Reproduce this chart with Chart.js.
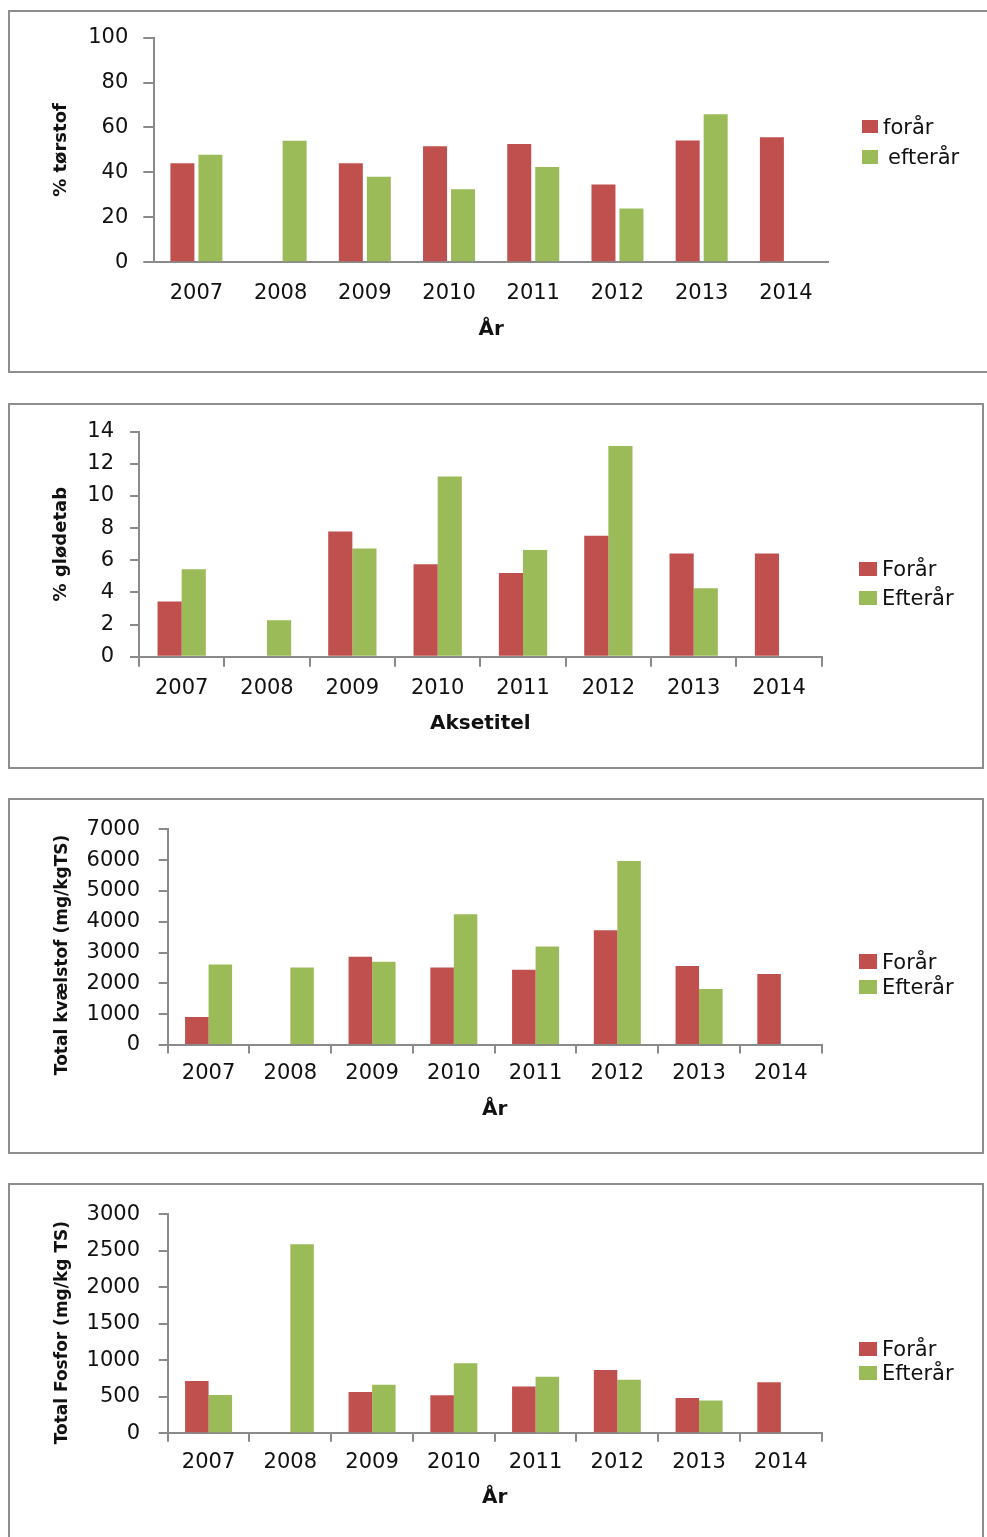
<!DOCTYPE html>
<html>
<head>
<meta charset="utf-8">
<script src="https://cdn.jsdelivr.net/npm/chart.js@4.4.0/dist/chart.umd.min.js"></script>
<style>
  html, body { margin: 0; padding: 0; background: #ffffff; }
  body { position: relative; width: 987px; height: 1537px; overflow: hidden; font-family: 'DejaVu Sans', sans-serif; }
  .frame { position: absolute; border: 2px solid #8e8e8e; box-sizing: border-box; background: #ffffff; }
  canvas.plot { position: absolute; left: 0; }
  .swatch { position: absolute; }
  .ltext { position: absolute; height: 30px; line-height: 30px; font-size: 21px; color: #111111; white-space: nowrap; }
</style>
</head>
<body>
<div class="frame" style="left:8px; top:10px; width:990px; height:363px;"></div>
<div class="frame" style="left:8px; top:403px; width:976px; height:366px;"></div>
<div class="frame" style="left:8px; top:798px; width:976px; height:356px;"></div>
<div class="frame" style="left:8px; top:1183px; width:976px; height:400px;"></div>

<canvas class="plot" id="c1" width="987" height="363" style="top:10px"></canvas>
<canvas class="plot" id="c2" width="987" height="365" style="top:403px"></canvas>
<canvas class="plot" id="c3" width="987" height="355" style="top:798px"></canvas>
<canvas class="plot" id="c4" width="987" height="354" style="top:1183px"></canvas>

<div id="legends"></div>

<script>
// Sampling years
const years = ['2007', '2008', '2009', '2010', '2011', '2012', '2013', '2014'];

// % tørstof (dry matter)
const torstofForaar   = [44.1, null, 44.1, 51.7, 52.7, 34.6, 54.2, 55.7];
const torstofEfteraar = [47.9, 54.1, 38.1, 32.5, 42.4, 23.9, 65.9, null];

// % glødetab (loss on ignition)
const glodetabForaar   = [3.44, null, 7.78, 5.75, 5.21, 7.52, 6.42, 6.42];
const glodetabEfteraar = [5.44, 2.27, 6.73, 11.2, 6.63, 13.1, 4.26, null];

// Total kvælstof (mg/kg TS)
const kvaelstofForaar   = [910, null, 2860, 2515, 2445, 3720, 2560, 2305];
const kvaelstofEfteraar = [2610, 2515, 2705, 4245, 3195, 5970, 1815, null];

// Total fosfor (mg/kg TS)
const fosforForaar   = [718, null, 566, 520, 641, 866, 485, 700];
const fosforEfteraar = [525, 2591, 664, 961, 776, 732, 449, null];

// Y-axis tick steps and limits
const torstofTicks   = { max: 100,  step: 20 };
const glodetabTicks  = { max: 14,   step: 2 };
const kvaelstofTicks = { max: 7000, step: 1000 };
const fosforTicks    = { max: 3000, step: 500 };

const RED = '#c0504d';
const GREEN = '#9bbb59';
const AXIS = '#8a8a8a';
const TEXT = '#111111';

Chart.defaults.font.family = "'DejaVu Sans', sans-serif";

function buildChart(id, spec) {
  const ds = (label, data, color) => ({
    label, data, backgroundColor: color, borderWidth: 0,
    barPercentage: spec.barPct, categoryPercentage: spec.catPct
  });
  return new Chart(document.getElementById(id), {
    type: 'bar',
    data: {
      labels: years,
      datasets: [ds(spec.names[0], spec.a, RED), ds(spec.names[1], spec.b, GREEN)]
    },
    options: {
      responsive: false,
      animation: false,
      devicePixelRatio: 1,
      layout: { padding: spec.pad },
      plugins: { legend: { display: false }, tooltip: { enabled: false } },
      scales: {
        x: {
          offset: true,
          grid: { display: true, offset: true, drawOnChartArea: false, drawTicks: spec.xTickLen > 0,
                  tickLength: spec.xTickLen, color: AXIS, lineWidth: 2 },
          border: { display: true, color: AXIS, width: 2 },
          ticks: { padding: spec.xPad, color: TEXT, font: { size: 21 }, maxRotation: 0, autoSkip: false },
          title: { display: true, text: spec.xTitle, color: TEXT,
                   font: { size: 20, weight: 'bold' }, padding: { top: 4, bottom: 4 } },
          afterFit: s => { s.height = spec.xH; }
        },
        y: {
          min: 0, max: spec.ticks.max,
          ticks: { stepSize: spec.ticks.step, padding: spec.yPad, color: TEXT, font: { size: 21 },
                   callback: v => String(v) },
          grid: { drawOnChartArea: false, drawTicks: true, tickLength: spec.yTickLen, color: AXIS, lineWidth: 2 },
          border: { display: true, color: AXIS, width: 2 },
          // trailing spaces nudge the rotated title toward the bottom of the axis
          title: { display: true, text: spec.yTitle + ' '.repeat(spec.yTitleShift || 0), color: TEXT,
                   font: { size: spec.yTitleSize, weight: 'bold' }, padding: { top: 4, bottom: 4 } },
          afterFit: s => { s.width = spec.yW; }
        }
      }
    }
  });
}

buildChart('c1', {
  names: ['forår', 'efterår'], a: torstofForaar, b: torstofEfteraar, ticks: torstofTicks,
  yTitle: '% tørstof', yTitleSize: 18, xTitle: 'År',
  barPct: 0.857, catPct: 0.665,
  pad: { left: 47, right: 159, top: 26.7, bottom: 27 },
  yW: 107.3, yTickLen: 11, yPad: 15, xH: 83.7, xTickLen: 0, xPad: 18.4
});

buildChart('c2', {
  names: ['Forår', 'Efterår'], a: glodetabForaar, b: glodetabEfteraar, ticks: glodetabTicks,
  yTitle: '% glødetab', yTitleSize: 18, xTitle: 'Aksetitel',
  barPct: 1.0, catPct: 0.566,
  pad: { left: 46.7, right: 165.3, top: 27, bottom: 28 },
  yW: 92.3, yTickLen: 9, yPad: 16, xH: 83.3, xTickLen: 10, xPad: 9
});

buildChart('c3', {
  names: ['Forår', 'Efterår'], a: kvaelstofForaar, b: kvaelstofEfteraar, ticks: kvaelstofTicks,
  yTitle: 'Total kvælstof (mg/kgTS)', yTitleSize: 17, yTitleShift: 6, xTitle: 'År',
  barPct: 1.0, catPct: 0.575,
  pad: { left: 48.8, right: 165.3, top: 24.3, bottom: 27 },
  yW: 118.9, yTickLen: 9, yPad: 18.7, xH: 81, xTickLen: 8.5, xPad: 7.9
});

buildChart('c4', {
  names: ['Forår', 'Efterår'], a: fosforForaar, b: fosforEfteraar, ticks: fosforTicks,
  yTitle: 'Total Fosfor (mg/kg TS)', yTitleSize: 17, yTitleShift: 3, xTitle: 'År',
  barPct: 1.0, catPct: 0.575,
  pad: { left: 48.3, right: 165.3, top: 27.7, bottom: 23 },
  yW: 119.4, yTickLen: 9, yPad: 18.7, xH: 80.7, xTickLen: 8.5, xPad: 8.1
});

// Legends: swatch + label beside each chart
const legendItems = [
  { x: 861.7, y: 126.7, w: 16, h: 13, tx: 883, text: 'forår',   color: RED },
  { x: 861.7, y: 156.5, w: 16, h: 14, tx: 888, text: 'efterår', color: GREEN },
  { x: 859.3, y: 568.8, w: 18, h: 14, tx: 882, text: 'Forår',   color: RED },
  { x: 859.3, y: 597.5, w: 18, h: 14, tx: 882, text: 'Efterår', color: GREEN },
  { x: 859.3, y: 961.5, w: 18, h: 15, tx: 882, text: 'Forår',   color: RED },
  { x: 859.3, y: 987.3, w: 18, h: 14, tx: 882, text: 'Efterår', color: GREEN },
  { x: 859.3, y: 1349,  w: 18, h: 14, tx: 882, text: 'Forår',   color: RED },
  { x: 859.3, y: 1373.3,w: 18, h: 14, tx: 882, text: 'Efterår', color: GREEN }
];
const holder = document.getElementById('legends');
legendItems.forEach(it => {
  const sw = document.createElement('div');
  sw.className = 'swatch';
  sw.style.cssText = `left:${it.x}px; top:${it.y - it.h / 2}px; width:${it.w}px; height:${it.h}px; background:${it.color};`;
  holder.appendChild(sw);
  const t = document.createElement('div');
  t.className = 'ltext';
  t.style.left = it.tx + 'px';
  t.style.top = (it.y - 15) + 'px';
  t.textContent = it.text;
  holder.appendChild(t);
});
</script>
</body>
</html>
